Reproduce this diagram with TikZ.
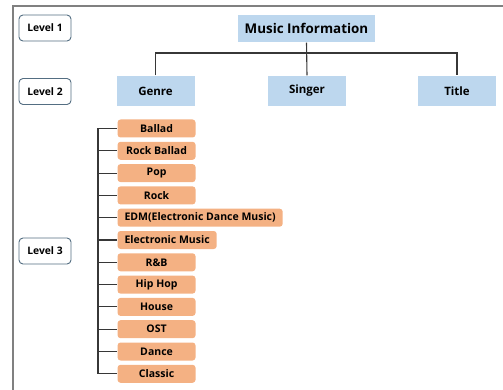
\documentclass[tikz,border=0pt]{standalone}
\usepackage{fontspec}
\setmainfont{Open Sans}
\usetikzlibrary{positioning}
\definecolor{topblue}{RGB}{189,215,238}
\definecolor{genreorange}{RGB}{244,177,131}
\definecolor{levelrim}{RGB}{84,110,130}
\definecolor{linkgray}{RGB}{55,55,55}

\begin{document}
\begin{tikzpicture}[x=1pt,y=-1pt,line width=1.1pt,
	levelbox/.style={draw=levelrim,line width=0.9pt,rounded corners=4pt,fill=white,minimum width=52pt,minimum height=26pt,inner sep=1pt,font=\bfseries\fontsize{10.3}{12}\selectfont},
	topbox/.style={fill=topblue,minimum width=78pt,minimum height=30pt,inner sep=2pt,font=\bfseries\fontsize{11.5}{13}\selectfont},
	genrebox/.style={fill=genreorange,rounded corners=3pt,minimum width=78pt,minimum height=18pt,inner xsep=7pt,inner ysep=1pt,anchor=west,font=\bfseries\fontsize{10.5}{12}\selectfont},
	link/.style={draw=linkgray}]

\useasboundingbox (0,0) rectangle (503,390);

% cadre
\draw [gray,line width=1.4pt](503,6)--(13,6)--(13,390);

% niveaux
\node[levelbox] (lvl1) at (45,28) {Level 1};
\node[levelbox] (lvl2) at (45,91.5) {Level 2};
\node[levelbox] (lvl3) at (45,251) {Level 3};

% niveau 1 et 2
\node[topbox,minimum width=137pt,minimum height=27pt,font=\bfseries\fontsize{13.4}{15}\selectfont] (music) at (306.5,28.5) {Music Information};
\node[topbox] (genre) at (155.5,91) {Genre};
\node[topbox] (singer) at (307,91) {Singer};
\node[topbox] (title) at (457,91) {Title};

\coordinate (bar) at (0,53);
\draw [link](music.south)--(singer.north);
\draw [link](genre.north)|-(bar -| title.north)--(title.north);

% niveau 3
\coordinate (spine) at (98,0);
\foreach \name [count=\i] in {Ballad,Rock Ballad,Pop,Rock,EDM(Electronic Dance Music),Electronic Music,R\&B,Hip Hop,House,OST,Dance,Classic}{
	\node[genrebox] (g\i) at (117,128.5+22.3*\i-22.3) {\name};
	\draw [link](g\i.west)--(g\i.west -| spine);
}
\draw [link](g1.west -| spine)--(g12.west -| spine);

\end{tikzpicture}
\end{document}
